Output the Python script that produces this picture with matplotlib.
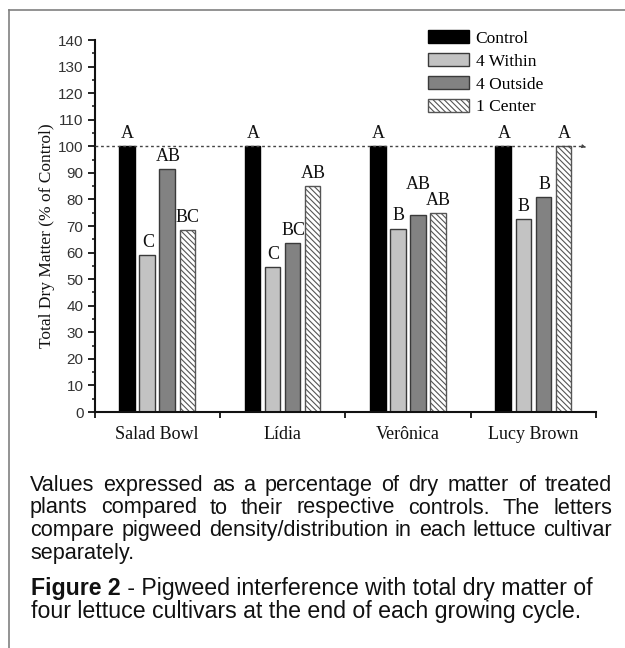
import matplotlib
matplotlib.use("Agg")
import matplotlib.pyplot as plt
import numpy as np
from matplotlib.patches import Patch
from matplotlib.lines import Line2D

# ---------------- data ----------------
cultivars = ["Salad Bowl", "Lídia", "Verônica", "Lucy Brown"]
series = ["Control", "4 Within", "4 Outside", "1 Center"]
control = [100, 100, 100, 100]
within = [59, 54.5, 69, 72.5]
outside = [91.5, 63.5, 74, 81]
center = [68.5, 85, 75, 100]
letters_control = ["A", "A", "A", "A"]
letters_within = ["C", "C", "B", "B"]
letters_outside = ["AB", "BC", "AB", "B"]
letters_center = ["BC", "AB", "AB", "A"]
yticks = list(range(0, 141, 10))
reference_level = 100

caption_para = [
    "Values expressed as a percentage of dry matter of treated",
    "plants compared to their respective controls. The letters",
    "compare pigweed density/distribution in each lettuce cultivar",
    "separately.",
]
caption_bold = "Figure 2"
caption_rest = " - Pigweed interference with total dry matter of"
caption_last = "four lettuce cultivars at the end of each growing cycle."

# ---------------- figure ----------------
W, H = 625, 648
DPI = 100
fig = plt.figure(figsize=(W / DPI, H / DPI), dpi=DPI)
fig.patch.set_facecolor("white")

def fx(px):
    return px / W

def fy(py):
    return 1 - py / H

ax = fig.add_axes([fx(94.5), fy(412), fx(596) - fx(94.5), fy(40) - fy(412)])

serif = ["Liberation Serif", "DejaVu Serif"]
sans = ["Liberation Sans", "DejaVu Sans"]

x = np.arange(len(cultivars))
bw = 0.124
step = 0.16
vals = [control, within, outside, center]
letters = [letters_control, letters_within, letters_outside, letters_center]
faces = ["black", "#c3c3c3", "#828282", "white"]
edges = ["black", "#3a3a3a", "#3a3a3a", "#555555"]
hatches = [None, None, None, "\\\\\\\\\\\\"]

plt.rcParams["hatch.linewidth"] = 0.8
plt.rcParams["hatch.color"] = "#555555"

for i, (v, fc, ec, h) in enumerate(zip(vals, faces, edges, hatches)):
    pos = x + (i - 1.5) * step
    ax.bar(pos, v, width=bw, color=fc, edgecolor=ec, linewidth=1.0,
           hatch=h, zorder=2)

# significance letters
extra = {(2, 2): 13}  # raise label for Verônica / 4 Outside to avoid overlap
for i, (v, labs) in enumerate(zip(vals, letters)):
    pos = x + (i - 1.5) * step
    for j, (px_, val, lab) in enumerate(zip(pos, v, labs)):
        off = 3 + extra.get((i, j), 0)
        ax.annotate(lab, xy=(px_, val), xytext=(0.5, off),
                    textcoords="offset points", ha="center", va="bottom",
                    fontsize=13, family=serif, color="#111111", zorder=4)

# reference dotted line with arrow
ax.plot([-0.5, 3.40], [reference_level, reference_level], color="#444444",
        lw=1.0, ls=(0, (2, 2)), zorder=3, clip_on=False)
ax.annotate("", xy=(3.44, reference_level - 0.6), xytext=(3.39, reference_level),
            arrowprops=dict(arrowstyle="-|>", color="#444444", lw=0.8,
                            mutation_scale=5), annotation_clip=False)

ax.set_xlim(-0.5, 3.5)
ax.set_ylim(0, 140)

for s in ["top", "right"]:
    ax.spines[s].set_visible(False)
for s in ["left", "bottom"]:
    ax.spines[s].set_linewidth(1.5)
    ax.spines[s].set_color("#111111")

ax.set_yticks(yticks)
ax.set_yticks(np.arange(5, 140, 10), minor=True)
ax.tick_params(axis="y", which="major", direction="out", length=5, width=1.3,
               pad=3, labelsize=11, labelcolor="#333333", color="#111111")
ax.tick_params(axis="y", which="minor", direction="out", length=2.5, width=1.1,
               color="#111111")
for lab in ax.get_yticklabels():
    lab.set_family(sans)

ax.set_xticks(np.arange(-0.5, 3.6, 1.0))
ax.set_xticklabels([])
ax.set_xticks(x, minor=True)
ax.set_xticklabels(cultivars, minor=True, fontsize=13, family=serif,
                   color="#111111")
ax.tick_params(axis="x", which="major", direction="out", length=4.5,
               width=1.3, color="#111111")
ax.tick_params(axis="x", which="minor", length=0, pad=10)

fig.text(fx(47), fy(236), "Total Dry Matter (% of Control)", rotation=90,
         ha="center", va="center", fontsize=12.5, family=serif, color="#111111")

# legend
handles = [Patch(facecolor=fc, edgecolor=ec, hatch=h, linewidth=1.0)
           for fc, ec, h in zip(faces, edges, hatches)]
leg = fig.legend(handles, series, loc="upper left",
                 bbox_to_anchor=(fx(428), fy(30)), bbox_transform=fig.transFigure,
                 frameon=False, borderpad=0, borderaxespad=0,
                 handlelength=2.35, handleheight=0.8, handletextpad=0.4,
                 labelspacing=0.36, prop=dict(family=serif, size=12.5))

# frame lines
fig.add_artist(Line2D([fx(9), 1.0], [fy(10), fy(10)], color="#808080", lw=1.2,
                      transform=fig.transFigure))
fig.add_artist(Line2D([fx(9), fx(9)], [fy(10), 0.0], color="#808080", lw=1.2,
                      transform=fig.transFigure))

# caption (justified paragraph)
renderer = fig.canvas.get_renderer()
left_px, right_px = 30, 612

def text_width(s, **kw):
    t = fig.text(0, 0, s, **kw)
    w = t.get_window_extent(renderer=renderer).width
    t.remove()
    return w

# paragraph size: longest line just fits; caption size: last line ~552 px
w10 = text_width(caption_para[2], fontsize=10, family=sans)
para_size = 10 * (right_px - left_px - 4) / w10
w10b = text_width(caption_last, fontsize=10, family=sans)
cap_size = min(10 * 552 / w10b, para_size * 1.08)

baselines = [491, 513.5, 536, 558.5]
for k, (line, base) in enumerate(zip(caption_para, baselines)):
    words = line.split()
    kw = dict(fontsize=para_size, family=sans, color="#111111")
    if k < len(caption_para) - 1 and len(words) > 1:
        widths = [text_width(w_, **kw) for w_ in words]
        gap = (right_px - left_px - sum(widths)) / (len(words) - 1)
        cx = left_px
        for w_, wd in zip(words, widths):
            fig.text(fx(cx), fy(base), w_, ha="left", va="baseline", **kw)
            cx += wd + gap
    else:
        fig.text(fx(left_px), fy(base), line, ha="left", va="baseline", **kw)

kwb = dict(fontsize=cap_size, family=sans, color="#111111")
bw_px = text_width(caption_bold, fontweight="bold", **kwb)
fig.text(fx(31), fy(595), caption_bold, ha="left", va="baseline",
         fontweight="bold", **kwb)
fig.text(fx(31 + bw_px), fy(595), caption_rest, ha="left", va="baseline", **kwb)
fig.text(fx(31), fy(618), caption_last, ha="left", va="baseline", **kwb)

fig.savefig("out.png", dpi=DPI, facecolor="white")
